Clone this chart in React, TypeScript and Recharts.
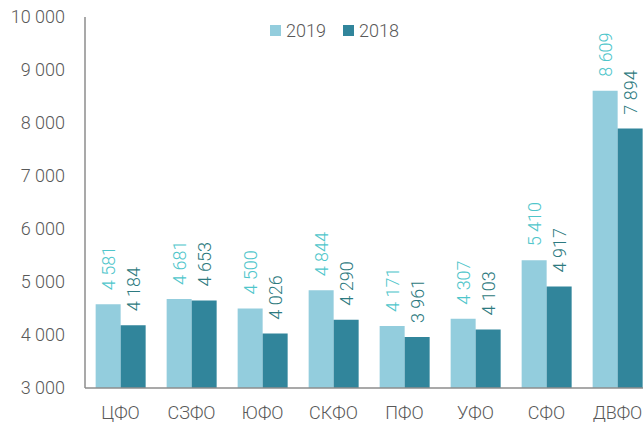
import React from "react";
import { BarChart, Bar, XAxis, YAxis, Legend, LabelList } from "recharts";

const categories = ["ЦФО", "СЗФО", "ЮФО", "СКФО", "ПФО", "УФО", "СФО", "ДВФО"];
const values2019 = [4581, 4681, 4500, 4844, 4171, 4307, 5410, 8609];
const values2018 = [4184, 4653, 4026, 4290, 3961, 4103, 4917, 7894];
const yTicks = [3000, 4000, 5000, 6000, 7000, 8000, 9000, 10000];

const data = categories.map((c, i) => ({ name: c, y2019: values2019[i], y2018: values2018[i] }));

const fmt = (v: number) => {
  const s = String(v);
  return s.length > 3 ? s.slice(0, s.length - 3) + " " + s.slice(s.length - 3) : s;
};

const FONT = "Roboto, sans-serif";
const WEIGHT = 300;
const LIGHT = "#93CDDD";
const DARK = "#31859B";

const makeLabel = (color: string) => (props: any) => {
  const { x, y, width, value } = props;
  const cx = x + width / 2;
  const ty = y - 14;
  return (
    <text
      x={cx}
      y={ty}
      transform={`rotate(-90 ${cx} ${ty})`}
      textAnchor="start"
      dominantBaseline="central"
      fill={color}
      fontSize={18}
      fontWeight={WEIGHT}
      fontFamily={FONT}
    >
      {fmt(value)}
    </text>
  );
};

const LegendContent = () => (
  <div style={{ position: "absolute", left: 270, top: 20, display: "flex", alignItems: "center", fontFamily: FONT, fontWeight: WEIGHT, fontSize: 18, color: "#595959" }}>
    <span style={{ display: "inline-block", width: 11, height: 11, background: LIGHT, marginRight: 5 }} />
    <span style={{ marginRight: 17 }}>2019</span>
    <span style={{ display: "inline-block", width: 11, height: 11, background: DARK, marginRight: 5 }} />
    <span>2018</span>
  </div>
);

export default function App() {
  return (
    <div style={{ position: "absolute", left: 0, top: 0, width: 643, height: 424, overflow: "hidden" }}>
      <BarChart
        width={653}
        height={424}
        data={data}
        margin={{ top: 17, right: 0, bottom: 0, left: 0 }}
        barCategoryGap="15%"
        barGap={0}
      >
        <XAxis
          dataKey="name"
          height={36}
          tickLine={false}
          tickSize={0}
          tickMargin={18}
          axisLine={{ stroke: "#8C8C8C", strokeWidth: 1.5 }}
          tick={{ fill: "#595959", fontSize: 18, fontFamily: FONT, fontWeight: WEIGHT }}
          interval={0}
        />
        <YAxis
          width={85}
          domain={[3000, 10000]}
          ticks={yTicks}
          tickFormatter={fmt}
          tickLine={false}
          tickSize={0}
          tickMargin={20}
          axisLine={{ stroke: "#8C8C8C", strokeWidth: 1.5 }}
          tick={{ fill: "#595959", fontSize: 18, fontFamily: FONT, fontWeight: WEIGHT }}
          allowDataOverflow
        />
        <Legend content={<LegendContent />} wrapperStyle={{ top: 0, left: 0 }} />
        <Bar dataKey="y2019" name="2019" fill={LIGHT} isAnimationActive={false}>
          <LabelList dataKey="y2019" content={makeLabel("#4FC6CB")} />
        </Bar>
        <Bar dataKey="y2018" name="2018" fill={DARK} isAnimationActive={false}>
          <LabelList dataKey="y2018" content={makeLabel("#2D7A80")} />
        </Bar>
      </BarChart>
    </div>
  );
}
